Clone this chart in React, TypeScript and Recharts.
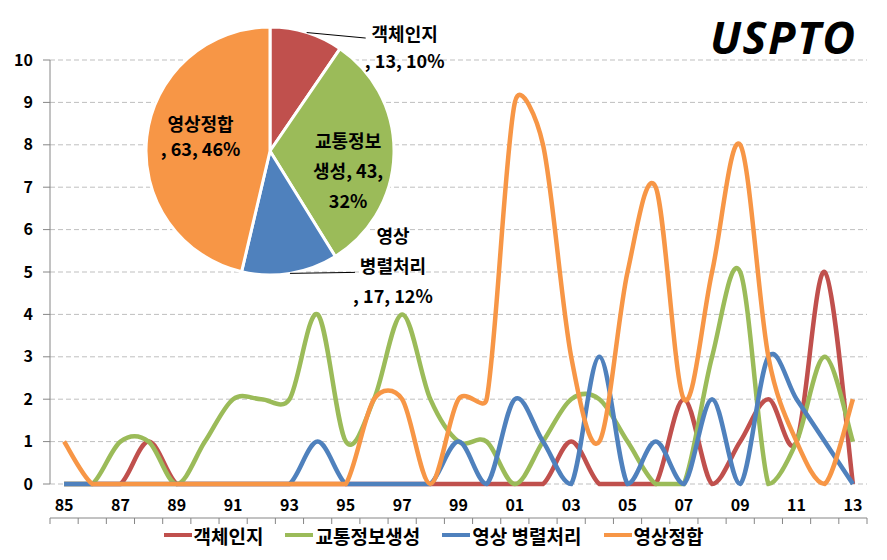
import React from "react";
import { LineChart, Line, XAxis, YAxis, CartesianGrid, Legend, PieChart, Pie, Cell } from "recharts";

const years = ["85", "86", "87", "88", "89", "90", "91", "92", "93", "94", "95", "96", "97", "98", "99",
  "00", "01", "02", "03", "04", "05", "06", "07", "08", "09", "10", "11", "12", "13"];

// 85 ... 13
const objectRecog = [0, 0, 0, 1, 0, 0, 0, 0, 0, 0, 0, 0, 0, 0, 0, 0, 0, 0, 1, 0, 0, 0, 2, 0, 1, 2, 1, 5, 0];
const trafficInfo = [0, 0, 1, 1, 0, 1, 2, 2, 2, 4, 1, 2, 4, 2, 1, 1, 0, 1, 2, 2, 1, 0, 0, 3, 5, 0, 1, 3, 1];
const parallelProc = [0, 0, 0, 0, 0, 0, 0, 0, 0, 1, 0, 0, 0, 0, 1, 0, 2, 1, 0, 3, 0, 1, 0, 2, 0, 3, 2, 1, 0];
const imageMatch = [1, 0, 0, 0, 0, 0, 0, 0, 0, 0, 0, 2, 2, 0, 2, 2, 9, 8, 3, 1, 5, 7, 2, 5, 8, 3, 1, 0, 2];

const seriesNames = ["객체인지", "교통정보생성", "영상 병렬처리", "영상정합"];
const colors = ["#C0504D", "#9BBB59", "#4F81BD", "#F79646"];

const pieValues = [13, 43, 17, 63];
const piePct = [10, 32, 12, 46];

const yTicks = [0, 1, 2, 3, 4, 5, 6, 7, 8, 9, 10];

const FONT = "'Noto Sans CJK KR', 'Noto Sans', sans-serif";

const data = years.map((y, i) => ({
  x: i,
  year: y,
  s0: objectRecog[i],
  s1: trafficInfo[i],
  s2: parallelProc[i],
  s3: imageMatch[i],
}));
const seriesData = [objectRecog, trafficInfo, parallelProc, imageMatch];

const labelTicks = years.map((_, i) => i).filter((i) => i % 2 === 0);
const boundaryTicks = Array.from({ length: years.length + 1 }, (_, i) => i - 0.5);

// Excel-like smoothed line: bezier with control arms capped at half the segment,
// kept from dropping under the lowest point (Excel clips at the plot floor)
function excelSmooth(context: any) {
  let px: number[] = [];
  let py: number[] = [];
  return {
    areaStart() {},
    areaEnd() {},
    lineStart() {
      px = [];
      py = [];
    },
    point(x: number, y: number) {
      px.push(+x);
      py.push(+y);
    },
    lineEnd() {
      const n = px.length;
      if (!n) return;
      const floor = Math.max(...py);
      const cy = (v: number) => Math.min(v, floor);
      context.moveTo(px[0], py[0]);
      const d = (a: number, b: number) => Math.hypot(px[a] - px[b], py[a] - py[b]);
      for (let i = 0; i < n - 1; i++) {
        const i0 = Math.max(i - 1, 0);
        const i3 = Math.min(i + 2, n - 1);
        const d12 = d(i, i + 1);
        const d02 = d(i0, i + 1);
        const d13 = d(i, i3);
        let f1 = 1 / 6;
        let f2 = 1 / 6;
        if (d02 > 0 && d02 / 6 > d12 / 2) f1 = d12 / (2 * d02);
        if (d13 > 0 && d13 / 6 > d12 / 2) f2 = d12 / (2 * d13);
        context.bezierCurveTo(
          px[i] + (px[i + 1] - px[i0]) * f1,
          cy(py[i] + (py[i + 1] - py[i0]) * f1),
          px[i + 1] - (px[i3] - px[i]) * f2,
          cy(py[i + 1] - (py[i3] - py[i]) * f2),
          px[i + 1],
          py[i + 1]
        );
      }
    },
  };
}

const pieData = seriesNames.map((name, i) => ({ name, value: pieValues[i] }));

const pieLines = [
  [seriesNames[0], `, ${pieValues[0]}, ${piePct[0]}%`],
  ["교통정보", `생성, ${pieValues[1]},`, `${piePct[1]}%`],
  ["영상", "병렬처리", `, ${pieValues[2]}, ${piePct[2]}%`],
  [seriesNames[3], `, ${pieValues[3]}, ${piePct[3]}%`],
];

// k: radius factor of anchor, dx/dy: text centre offset, leader: end of leader line relative to first line
const pieLabelLayout = [
  { k: 1, dx: 98, dy: 14, lh: 27, leader: [-39, 5] },
  { k: 0.63, dx: 0, dy: 17, lh: 30, leader: null },
  { k: 1, dx: 103, dy: -8, lh: 30, leader: [-38, 37] },
  { k: 0.58, dx: 2, dy: -7, lh: 25, leader: null },
];

const RAD = Math.PI / 180;

function renderPieLabel(props: any) {
  const { cx, cy, midAngle, outerRadius, index } = props;
  const lay = pieLabelLayout[index];
  const ax = cx + outerRadius * lay.k * Math.cos(-midAngle * RAD);
  const ay = cy + outerRadius * lay.k * Math.sin(-midAngle * RAD);
  const tx = ax + lay.dx;
  const ty = ay + lay.dy;
  const lines = pieLines[index];
  const top = ty - ((lines.length - 1) * lay.lh) / 2;
  return (
    <g key={`pl-${index}`}>
      {lay.leader && (
        <line x1={ax} y1={ay} x2={tx + lay.leader[0]} y2={top + lay.leader[1]} stroke="#000" strokeWidth={1} />
      )}
      {lines.map((t, j) => (
        <text
          key={j}
          x={tx}
          y={top + j * lay.lh}
          textAnchor="middle"
          dominantBaseline="central"
          fontFamily={FONT}
          fontSize={18}
          fontWeight={700}
          fill="#000"
        >
          {t}
        </text>
      ))}
    </g>
  );
}

function renderLegend(props: any) {
  const payload = props.payload || [];
  return (
    <div
      style={{
        display: "flex",
        justifyContent: "center",
        alignItems: "center",
        gap: 22,
        height: 30,
        fontFamily: FONT,
        fontSize: 19,
        fontWeight: 700,
        color: "#000",
      }}
    >
      {payload.map((p: any) => (
        <span key={p.value} style={{ display: "flex", alignItems: "center", whiteSpace: "pre" }}>
          <span style={{ width: 28, height: 4, background: p.color, marginRight: 2, display: "inline-block" }} />
          {p.value}
        </span>
      ))}
    </div>
  );
}

const axisTick = { fill: "#000", fontSize: 16, fontWeight: 700, fontFamily: FONT };

export default function App() {
  return (
    <div style={{ position: "absolute", left: 0, top: 0, width: 887, height: 560, background: "#fff" }}>
      <LineChart width={887} height={560} data={data} margin={{ top: 60, right: 20, left: 0, bottom: 10 }}>
        <CartesianGrid vertical={false} stroke="#BFBFBF" strokeDasharray="5 3" />
        <XAxis
          xAxisId="marks"
          type="number"
          dataKey="x"
          domain={[-0.5, years.length - 0.5]}
          ticks={boundaryTicks}
          interval={0}
          tickFormatter={() => ""}
          height={2}
          tickSize={6}
          axisLine={{ stroke: "#868686" }}
          tickLine={{ stroke: "#868686" }}
        />
        <XAxis
          xAxisId="labels"
          type="number"
          dataKey="x"
          domain={[-0.5, years.length - 0.5]}
          ticks={labelTicks}
          interval={0}
          tickFormatter={(v: number) => years[v]}
          height={34}
          tickSize={6}
          tickMargin={10}
          axisLine={false}
          tickLine={false}
          tick={axisTick}
        />
        <YAxis
          domain={[0, 10]}
          ticks={yTicks}
          interval={0}
          width={50}
          tickSize={7}
          tickMargin={10}
          axisLine={{ stroke: "#868686" }}
          tickLine={{ stroke: "#868686" }}
          tick={axisTick}
        />
        <Legend verticalAlign="bottom" content={renderLegend} wrapperStyle={{ height: 30 }} />
        {seriesData.map((_, i) => (
          <Line
            key={i}
            xAxisId="marks"
            dataKey={`s${i}`}
            name={seriesNames[i]}
            stroke={colors[i]}
            strokeWidth={4.5}
            type={excelSmooth as any}
            dot={false}
            activeDot={false}
            isAnimationActive={false}
          />
        ))}
      </LineChart>
      <div style={{ position: "absolute", left: 0, top: 0 }}>
        <PieChart width={460} height={330} margin={{ top: 0, right: 0, bottom: 0, left: 0 }}>
          <Pie
            data={pieData}
            dataKey="value"
            nameKey="name"
            cx={270}
            cy={151}
            outerRadius={124}
            startAngle={90}
            endAngle={-270}
            stroke="#fff"
            strokeWidth={3}
            label={renderPieLabel}
            labelLine={false}
            isAnimationActive={false}
          >
            {pieData.map((_, i) => (
              <Cell key={i} fill={colors[i]} />
            ))}
          </Pie>
        </PieChart>
      </div>
      <div
        style={{
          position: "absolute",
          left: 710,
          top: 14,
          fontFamily: "'Open Sans', sans-serif",
          fontStyle: "italic",
          fontWeight: 700,
          fontSize: 45,
          lineHeight: "45px",
          letterSpacing: 1.5,
          color: "#000",
          whiteSpace: "nowrap",
        }}
      >
        USPTO
      </div>
    </div>
  );
}
